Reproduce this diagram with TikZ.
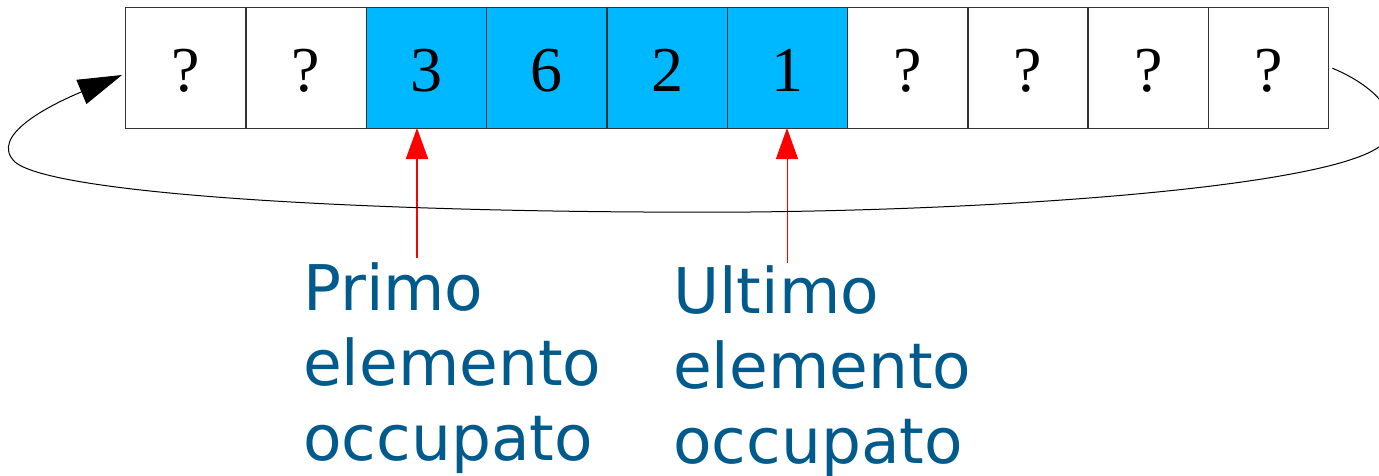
\documentclass[tikz,border=0pt]{standalone}
\usepackage{fontspec}
\setmainfont{Liberation Serif}
\newfontfamily\labelfont{DejaVu Sans}
\usetikzlibrary{arrows.meta}
\definecolor{cellblue}{RGB}{0,184,255}
\definecolor{labelblue}{RGB}{0,91,140}
\definecolor{ptrred}{RGB}{255,0,0}
\begin{document}
\begin{tikzpicture}[x=1pt,y=-1pt,
  cell/.style={draw=black!80, line width=1.4pt, minimum width=120.3pt, minimum height=121pt,
    inner sep=0pt, text height=47pt, text depth=0pt, anchor=north west,
    font=\fontsize{64}{64}\selectfont},
  occupied/.style={cell, fill=cellblue},
  lbl/.style={text=labelblue, align=left, inner sep=0pt, anchor=base west,
    font=\labelfont\fontsize{63}{75}\selectfont},
  ptr/.style={draw=ptrred, -{Triangle[length=31pt,width=22pt]}},
  wrap/.style={draw=black, line width=1pt, -{Triangle[length=44pt,width=26pt]}}]
\useasboundingbox (0,0) rectangle (1379,475);
\foreach \i/\t/\s in {1/?/cell,2/?/cell,3/3/occupied,4/6/occupied,5/2/occupied,6/1/occupied,7/?/cell,8/?/cell,9/?/cell,10/?/cell}{
  \node[\s] (c\i) at ({125+(\i-1)*120.3},7) {\t};
}
\node[lbl] (primo) at (303,460) {Primo\\elemento\\occupato};
\node[lbl] (ultimo) at (673,463) {Ultimo\\elemento\\occupato};
\coordinate (p1) at (417,258);
\coordinate (p1t) at (417,128);
\coordinate (p2) at (787,263);
\coordinate (p2t) at (787,128);
\draw[ptr, line width=2pt] (p1) -- (p1t);
\draw[ptr, line width=1pt] (p2) -- (p2t);
\coordinate (wend) at (122,75);
\draw[wrap] ([xshift=3pt]c10.east) .. controls (1375,86) and (1402,115) .. (1386,140)
  .. controls (1360,182) and (1050,209) .. (750,212)
  .. controls (400,214) and (55,196) .. (15,162)
  .. controls (-12,136) and (50,105) .. (wend);
\end{tikzpicture}
\end{document}
